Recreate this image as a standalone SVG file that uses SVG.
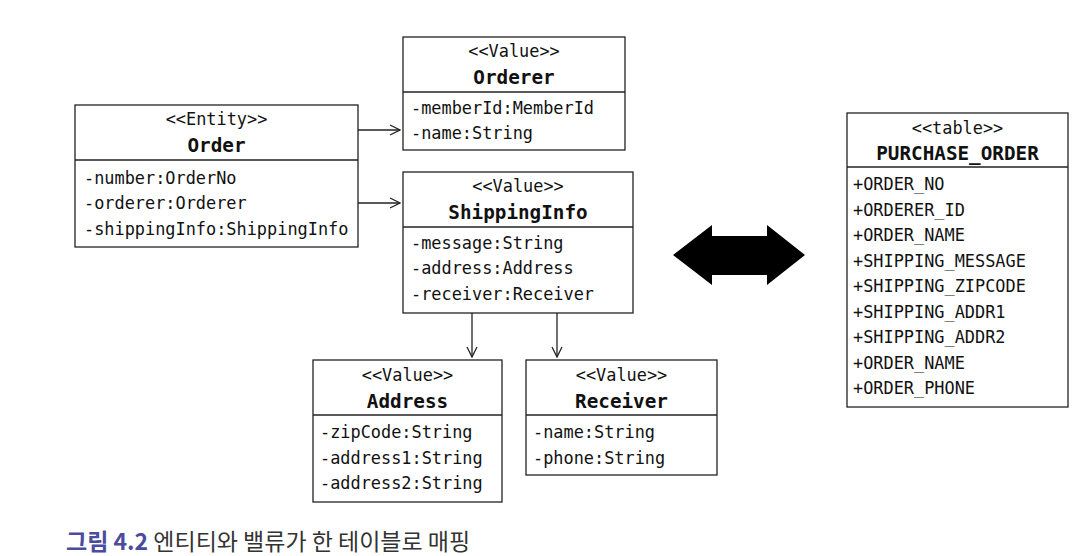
<svg xmlns="http://www.w3.org/2000/svg" width="1086" height="556" viewBox="0 0 1086 556">
<style>
.box{fill:#fff;stroke:#222;stroke-width:1.3}
.div{stroke:#222;stroke-width:1.3}
.st{font-family:"DejaVu Sans Mono","Liberation Mono",monospace;font-size:16.9px;fill:#111;text-anchor:middle}
.nm{font-family:"DejaVu Sans Mono","Liberation Mono",monospace;font-size:19.3px;font-weight:bold;fill:#111;text-anchor:middle}
.at{font-family:"DejaVu Sans Mono","Liberation Mono",monospace;font-size:16.9px;fill:#111}
.ln{stroke:#222;stroke-width:1.3;fill:none}
.cap{font-family:"Noto Sans CJK KR","Noto Sans",sans-serif;font-size:23px}
</style>
<defs>
<marker id="open" viewBox="0 0 12 12" refX="11" refY="6" markerWidth="12" markerHeight="12" markerUnits="userSpaceOnUse" orient="auto">
<path d="M1,1 L11,6 L1,11" fill="none" stroke="#222" stroke-width="1.3"/>
</marker>
</defs>
<rect width="1086" height="556" fill="#fff"/>
<g id="connectors">
<line class="ln" x1="358" y1="130" x2="400" y2="130" marker-end="url(#open)"/>
<line class="ln" x1="358" y1="203" x2="400" y2="203" marker-end="url(#open)"/>
<line class="ln" x1="472" y1="313" x2="472" y2="357" marker-end="url(#open)"/>
<line class="ln" x1="557" y1="313" x2="557" y2="357" marker-end="url(#open)"/>
<polygon points="673,255 712,225 712,236 767,236 767,225 805,255 767,285 767,275 712,275 712,285" fill="#000"/>
</g>
<g id="order">
<rect class="box" x="75" y="105" width="283" height="142"/>
<line class="div" x1="75" y1="160" x2="358" y2="160"/>
<text class="st" x="216.5" y="125">&lt;&lt;Entity&gt;&gt;</text>
<text class="nm" x="216.5" y="152">Order</text>
<text class="at" x="84" y="184">-number:OrderNo</text>
<text class="at" x="84" y="209">-orderer:Orderer</text>
<text class="at" x="84" y="235">-shippingInfo:ShippingInfo</text>
</g>
<g id="orderer">
<rect class="box" x="403" y="37" width="222" height="113"/>
<line class="div" x1="403" y1="92" x2="625" y2="92"/>
<text class="st" x="514" y="57">&lt;&lt;Value&gt;&gt;</text>
<text class="nm" x="514" y="84">Orderer</text>
<text class="at" x="411" y="114">-memberId:MemberId</text>
<text class="at" x="411" y="139">-name:String</text>
</g>
<g id="shippinginfo">
<rect class="box" x="403" y="172" width="230" height="141"/>
<line class="div" x1="403" y1="227" x2="633" y2="227"/>
<text class="st" x="518" y="192">&lt;&lt;Value&gt;&gt;</text>
<text class="nm" x="518" y="219">ShippingInfo</text>
<text class="at" x="411" y="249">-message:String</text>
<text class="at" x="411" y="274">-address:Address</text>
<text class="at" x="411" y="300">-receiver:Receiver</text>
</g>
<g id="address">
<rect class="box" x="313" y="360" width="189" height="142"/>
<line class="div" x1="313" y1="415" x2="502" y2="415"/>
<text class="st" x="407.5" y="381">&lt;&lt;Value&gt;&gt;</text>
<text class="nm" x="407.5" y="408">Address</text>
<text class="at" x="320" y="438">-zipCode:String</text>
<text class="at" x="320" y="464">-address1:String</text>
<text class="at" x="320" y="489">-address2:String</text>
</g>
<g id="receiver">
<rect class="box" x="526" y="360" width="191" height="115"/>
<line class="div" x1="526" y1="415" x2="717" y2="415"/>
<text class="st" x="621.5" y="381">&lt;&lt;Value&gt;&gt;</text>
<text class="nm" x="621.5" y="408">Receiver</text>
<text class="at" x="533" y="438">-name:String</text>
<text class="at" x="533" y="464">-phone:String</text>
</g>
<g id="purchase_order">
<rect class="box" x="847" y="113" width="221" height="294"/>
<line class="div" x1="847" y1="167" x2="1068" y2="167"/>
<text class="st" x="957.5" y="134">&lt;&lt;table&gt;&gt;</text>
<text class="nm" x="957.5" y="160">PURCHASE_ORDER</text>
<text class="at" x="853" y="190">+ORDER_NO</text>
<text class="at" x="853" y="215.5">+ORDERER_ID</text>
<text class="at" x="853" y="241">+ORDER_NAME</text>
<text class="at" x="853" y="267">+SHIPPING_MESSAGE</text>
<text class="at" x="853" y="292">+SHIPPING_ZIPCODE</text>
<text class="at" x="853" y="318">+SHIPPING_ADDR1</text>
<text class="at" x="853" y="343">+SHIPPING_ADDR2</text>
<text class="at" x="853" y="369">+ORDER_NAME</text>
<text class="at" x="853" y="394">+ORDER_PHONE</text>
</g>
<g id="caption">
<text class="cap" x="66" y="550"><tspan fill="#4a4c9e" font-weight="bold">그림 4.2</tspan><tspan fill="#333"> 엔티티와 밸류가 한 테이블로 매핑</tspan></text>
</g>
</svg>
